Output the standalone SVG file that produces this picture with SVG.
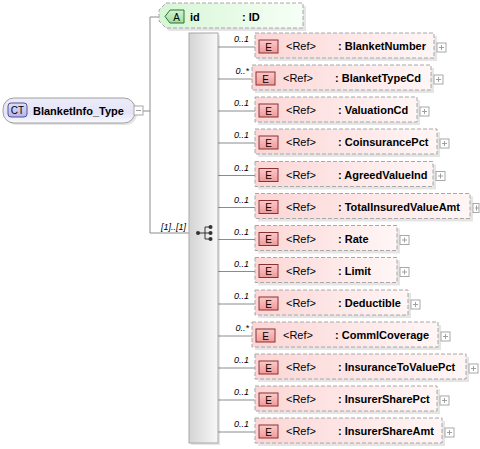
<svg xmlns="http://www.w3.org/2000/svg" width="480" height="449" viewBox="0 0 480 449">
<defs>
<linearGradient id="gE" x1="0" y1="0" x2="1" y2="0"><stop offset="0" stop-color="#fcd6d6"/><stop offset="1" stop-color="#fff6f6"/></linearGradient>
<linearGradient id="gEb" x1="0" y1="0" x2="0" y2="1"><stop offset="0" stop-color="#fbcaca"/><stop offset="1" stop-color="#f09a9a"/></linearGradient>
<linearGradient id="gA" x1="0" y1="0" x2="1" y2="0"><stop offset="0" stop-color="#d6f6d6"/><stop offset="1" stop-color="#f6fff6"/></linearGradient>
<linearGradient id="gAb" x1="0" y1="0" x2="0" y2="1"><stop offset="0" stop-color="#d4f4d4"/><stop offset="1" stop-color="#9edc9e"/></linearGradient>
<linearGradient id="gCT" x1="0" y1="0" x2="0" y2="1"><stop offset="0" stop-color="#ececfa"/><stop offset="0.6" stop-color="#e4e4f6"/><stop offset="1" stop-color="#fafaff"/></linearGradient>
<linearGradient id="gCTb" x1="0" y1="0" x2="0" y2="1"><stop offset="0" stop-color="#e0e0fa"/><stop offset="1" stop-color="#b4b4ec"/></linearGradient>
<linearGradient id="gS" x1="0" y1="0" x2="1" y2="0"><stop offset="0" stop-color="#d4d4d4"/><stop offset="1" stop-color="#f8f8f8"/></linearGradient>
</defs>
<style>
text{font-family:"Liberation Sans",Arial,sans-serif;fill:#000}
.nm{font-size:11px;font-weight:bold}
.rf{font-size:11px}
.bd{font-size:10px;text-anchor:middle}
.ml{font-size:9px;font-style:italic;text-anchor:end}
.box{fill:url(#gE);stroke:#a8a8a8;stroke-dasharray:4 2}
.sh{fill:#000;opacity:0.1}
.eb{fill:url(#gEb);stroke:#8a3030}
.pl{fill:#fff;stroke:#a8a8a8}
.pm{stroke:#a0a0a0;fill:none}
.cn{stroke:#8c8c8c;fill:none}
</style>

<g id="connectors">
<path class="cn" d="M143,111H150M150,17V233M150,17H160M150,233H189"/>
<path class="cn" d="M218,47H255M218,79H252M218,111H255M218,143H255M218,175.5H255M218,207.5H255M218,239.5H255M218,271.5H255M218,304H255M218,336H252M218,368H255M218,400H255M218,432H255"/>
<text class="ml" x="186" y="230">[1]..[1]</text>
<text class="ml" x="249" y="42">0..1</text>
<text class="ml" x="249" y="74">0..*</text>
<text class="ml" x="249" y="106">0..1</text>
<text class="ml" x="249" y="138">0..1</text>
<text class="ml" x="249" y="170.5">0..1</text>
<text class="ml" x="249" y="202.5">0..1</text>
<text class="ml" x="249" y="234.5">0..1</text>
<text class="ml" x="249" y="266.5">0..1</text>
<text class="ml" x="249" y="299">0..1</text>
<text class="ml" x="249" y="331">0..*</text>
<text class="ml" x="249" y="363">0..1</text>
<text class="ml" x="249" y="395">0..1</text>
<text class="ml" x="249" y="427">0..1</text>
</g>

<g id="BlanketInfo_Type">
<rect class="sh" x="5" y="100" width="132" height="25" rx="11"/>
<rect x="3" y="98" width="132" height="25" rx="11" fill="url(#gCT)" stroke="#a0a0a0"/>
<rect x="8" y="103" width="19" height="14" rx="3" fill="url(#gCTb)" stroke="#50509a"/>
<text class="bd" x="17.5" y="114">CT</text>
<text class="nm" x="33" y="115">BlanketInfo_Type</text>
<rect class="pl" x="134" y="106" width="9" height="9"/>
<path class="pm" d="M136,110.5H141"/>
</g>

<g id="attr_id">
<polygon class="sh" points="169,6 306,6 306,31 169,31 162,24 162,13"/>
<polygon points="166,3 303,3 303,28 166,28 159,21 159,10" fill="url(#gA)" stroke="#a8a8a8" stroke-dasharray="4 2"/>
<polygon points="165,16.5 170,10 184,10 184,23 170,23" fill="url(#gAb)" stroke="#307030"/>
<text class="bd" x="176.5" y="20.5">A</text>
<text class="nm" x="190" y="21">id</text>
<text class="nm" x="242" y="21">: ID</text>
</g>

<g id="sequence">
<rect class="sh" x="191" y="35" width="29" height="410"/>
<rect x="189" y="33" width="29" height="410" fill="url(#gS)" stroke="#a8a8a8"/>
<path d="M198,233H205M205,227V239M205,227H210M205,233H210M205,239H210" stroke="#333" fill="none"/>
<circle cx="198" cy="233" r="2" fill="#333"/>
<circle cx="210.5" cy="227" r="2" fill="#333"/>
<circle cx="210.5" cy="233" r="2" fill="#333"/>
<circle cx="210.5" cy="239" r="2" fill="#333"/>
</g>

<g id="BlanketNumber" transform="translate(0,33)">
<rect class="sh" x="258" y="3" width="179" height="25"/>
<rect class="box" x="255" y="0" width="179" height="25"/>
<rect class="eb" x="259" y="7" width="19" height="13"/>
<text class="bd" x="268.5" y="17.5">E</text>
<text class="rf" x="286" y="17">&lt;Ref&gt;</text>
<text class="nm" x="338" y="17">: BlanketNumber</text>
<rect class="pl" x="437" y="10" width="9" height="9"/>
<path class="pm" d="M439,14.5H444M441.5,12V17"/>
</g>

<g id="BlanketTypeCd" transform="translate(0,65)">
<rect class="sh" x="255" y="3" width="179" height="25"/>
<rect class="box" x="252" y="0" width="179" height="25"/>
<rect class="eb" x="256" y="7" width="19" height="13"/>
<text class="bd" x="265.5" y="17.5">E</text>
<text class="rf" x="283" y="17">&lt;Ref&gt;</text>
<text class="nm" x="335" y="17">: BlanketTypeCd</text>
<rect class="pl" x="434" y="10" width="9" height="9"/>
<path class="pm" d="M436,14.5H441M438.5,12V17"/>
</g>

<g id="ValuationCd" transform="translate(0,97)">
<rect class="sh" x="258" y="3" width="162" height="25"/>
<rect class="box" x="255" y="0" width="162" height="25"/>
<rect class="eb" x="259" y="7" width="19" height="13"/>
<text class="bd" x="268.5" y="17.5">E</text>
<text class="rf" x="286" y="17">&lt;Ref&gt;</text>
<text class="nm" x="338" y="17">: ValuationCd</text>
<rect class="pl" x="420" y="10" width="9" height="9"/>
<path class="pm" d="M422,14.5H427M424.5,12V17"/>
</g>

<g id="CoinsurancePct" transform="translate(0,129)">
<rect class="sh" x="258" y="3" width="182" height="25"/>
<rect class="box" x="255" y="0" width="182" height="25"/>
<rect class="eb" x="259" y="7" width="19" height="13"/>
<text class="bd" x="268.5" y="17.5">E</text>
<text class="rf" x="286" y="17">&lt;Ref&gt;</text>
<text class="nm" x="338" y="17">: CoinsurancePct</text>
<rect class="pl" x="440" y="10" width="9" height="9"/>
<path class="pm" d="M442,14.5H447M444.5,12V17"/>
</g>

<g id="AgreedValueInd" transform="translate(0,161.5)">
<rect class="sh" x="258" y="3" width="178" height="25"/>
<rect class="box" x="255" y="0" width="178" height="25"/>
<rect class="eb" x="259" y="7" width="19" height="13"/>
<text class="bd" x="268.5" y="17.5">E</text>
<text class="rf" x="286" y="17">&lt;Ref&gt;</text>
<text class="nm" x="338" y="17">: AgreedValueInd</text>
<rect class="pl" x="436" y="10" width="9" height="9"/>
<path class="pm" d="M438,14.5H443M440.5,12V17"/>
</g>

<g id="TotalInsuredValueAmt" transform="translate(0,193.5)">
<rect class="sh" x="258" y="3" width="215" height="25"/>
<rect class="box" x="255" y="0" width="215" height="25"/>
<rect class="eb" x="259" y="7" width="19" height="13"/>
<text class="bd" x="268.5" y="17.5">E</text>
<text class="rf" x="286" y="17">&lt;Ref&gt;</text>
<text class="nm" x="338" y="17">: TotalInsuredValueAmt</text>
<rect class="pl" x="473" y="10" width="6" height="9"/>
<path class="pm" d="M475,14.5H479M476.5,12V17"/>
</g>

<g id="Rate" transform="translate(0,225.5)">
<rect class="sh" x="258" y="3" width="142" height="25"/>
<rect class="box" x="255" y="0" width="142" height="25"/>
<rect class="eb" x="259" y="7" width="19" height="13"/>
<text class="bd" x="268.5" y="17.5">E</text>
<text class="rf" x="286" y="17">&lt;Ref&gt;</text>
<text class="nm" x="338" y="17">: Rate</text>
<rect class="pl" x="400" y="10" width="9" height="9"/>
<path class="pm" d="M402,14.5H407M404.5,12V17"/>
</g>

<g id="Limit" transform="translate(0,257.5)">
<rect class="sh" x="258" y="3" width="142" height="25"/>
<rect class="box" x="255" y="0" width="142" height="25"/>
<rect class="eb" x="259" y="7" width="19" height="13"/>
<text class="bd" x="268.5" y="17.5">E</text>
<text class="rf" x="286" y="17">&lt;Ref&gt;</text>
<text class="nm" x="338" y="17">: Limit</text>
<rect class="pl" x="400" y="10" width="9" height="9"/>
<path class="pm" d="M402,14.5H407M404.5,12V17"/>
</g>

<g id="Deductible" transform="translate(0,290)">
<rect class="sh" x="258" y="3" width="153" height="25"/>
<rect class="box" x="255" y="0" width="153" height="25"/>
<rect class="eb" x="259" y="7" width="19" height="13"/>
<text class="bd" x="268.5" y="17.5">E</text>
<text class="rf" x="286" y="17">&lt;Ref&gt;</text>
<text class="nm" x="338" y="17">: Deductible</text>
<rect class="pl" x="411" y="10" width="9" height="9"/>
<path class="pm" d="M413,14.5H418M415.5,12V17"/>
</g>

<g id="CommlCoverage" transform="translate(0,322)">
<rect class="sh" x="255" y="3" width="186" height="25"/>
<rect class="box" x="252" y="0" width="186" height="25"/>
<rect class="eb" x="256" y="7" width="19" height="13"/>
<text class="bd" x="265.5" y="17.5">E</text>
<text class="rf" x="283" y="17">&lt;Ref&gt;</text>
<text class="nm" x="335" y="17">: CommlCoverage</text>
<rect class="pl" x="441" y="10" width="9" height="9"/>
<path class="pm" d="M443,14.5H448M445.5,12V17"/>
</g>

<g id="InsuranceToValuePct" transform="translate(0,354)">
<rect class="sh" x="258" y="3" width="211" height="25"/>
<rect class="box" x="255" y="0" width="211" height="25"/>
<rect class="eb" x="259" y="7" width="19" height="13"/>
<text class="bd" x="268.5" y="17.5">E</text>
<text class="rf" x="286" y="17">&lt;Ref&gt;</text>
<text class="nm" x="338" y="17">: InsuranceToValuePct</text>
<rect class="pl" x="469" y="10" width="9" height="9"/>
<path class="pm" d="M471,14.5H476M473.5,12V17"/>
</g>

<g id="InsurerSharePct" transform="translate(0,386)">
<rect class="sh" x="258" y="3" width="182" height="25"/>
<rect class="box" x="255" y="0" width="182" height="25"/>
<rect class="eb" x="259" y="7" width="19" height="13"/>
<text class="bd" x="268.5" y="17.5">E</text>
<text class="rf" x="286" y="17">&lt;Ref&gt;</text>
<text class="nm" x="338" y="17">: InsurerSharePct</text>
<rect class="pl" x="440" y="10" width="9" height="9"/>
<path class="pm" d="M442,14.5H447M444.5,12V17"/>
</g>

<g id="InsurerShareAmt" transform="translate(0,418)">
<rect class="sh" x="258" y="3" width="187" height="25"/>
<rect class="box" x="255" y="0" width="187" height="25"/>
<rect class="eb" x="259" y="7" width="19" height="13"/>
<text class="bd" x="268.5" y="17.5">E</text>
<text class="rf" x="286" y="17">&lt;Ref&gt;</text>
<text class="nm" x="338" y="17">: InsurerShareAmt</text>
<rect class="pl" x="445" y="10" width="9" height="9"/>
<path class="pm" d="M447,14.5H452M449.5,12V17"/>
</g>
</svg>
